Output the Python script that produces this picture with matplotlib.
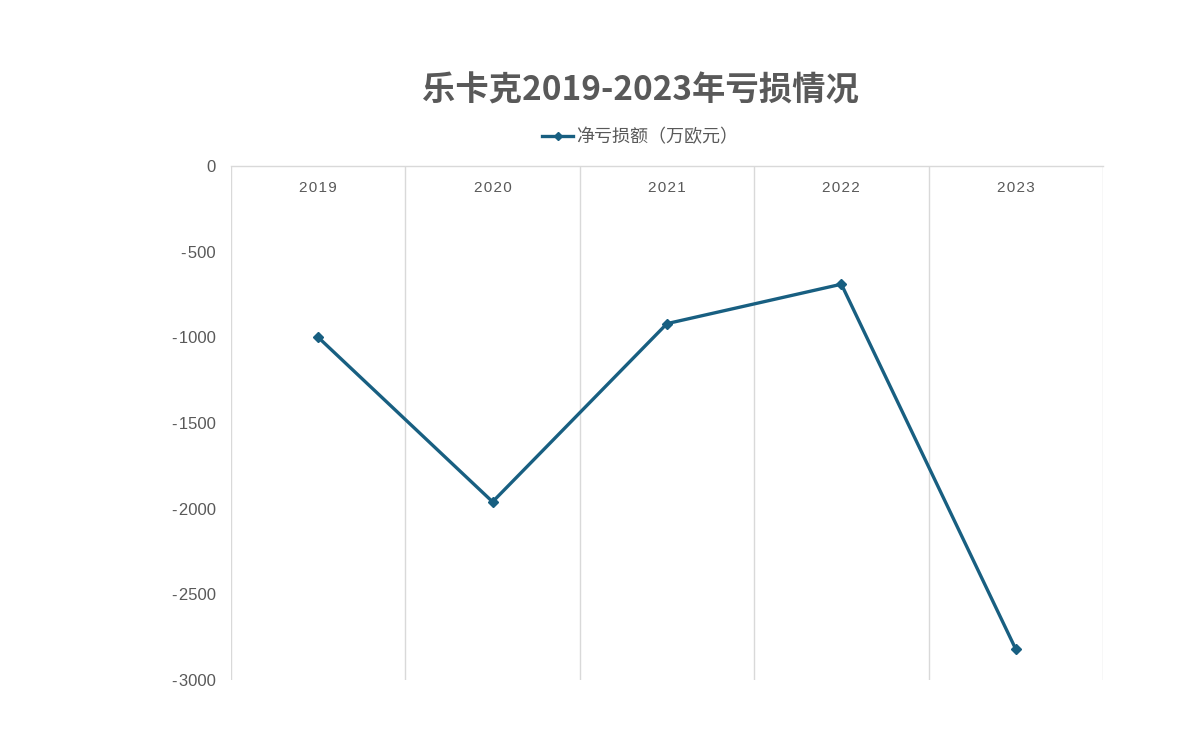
import matplotlib
matplotlib.use("Agg")
import matplotlib.pyplot as plt
from matplotlib.ticker import FuncFormatter, MultipleLocator

plt.rcParams['font.family'] = ['Noto Sans CJK SC', 'DejaVu Sans']
plt.rcParams['axes.unicode_minus'] = False

years = ["2019", "2020", "2021", "2022", "2023"]
net_loss = [-1000, -1960, -920, -690, -2820]

LINE = "#185F81"
TXT = "#595959"
GRID = "#D9D9D9"
NUM_FONT = ['Liberation Sans', 'DejaVu Sans']

fig = plt.figure(figsize=(11.92, 7.41), dpi=100)
ax = fig.add_axes([0.1938, 0.0823, 0.7315, 0.6937])

x = list(range(len(years)))
ax.plot(x, net_loss, color=LINE, lw=2.4, marker="D", ms=5.5,
        label="净亏损额（万欧元）", zorder=3)

ax.set_xlim(-0.5, len(years) - 0.5)
ax.set_ylim(-3000, 0)
ax.yaxis.set_major_locator(MultipleLocator(500))
# Excel-style labels: hyphen minus with a small gap before the digits
ax.yaxis.set_major_formatter(
    FuncFormatter(lambda v, p: f"{int(v)}".replace("-", "-\u200a")))

# vertical category separators
ax.set_xticks([i - 0.5 for i in range(len(years) + 1)])
ax.tick_params(axis="x", length=0, labelbottom=False)
ax.grid(axis="x", color=GRID, lw=1.0)
ax.tick_params(axis="y", length=0, pad=11, labelsize=12, labelcolor=TXT)
for lab in ax.get_yticklabels():
    lab.set_family(NUM_FONT)

for s in ("left", "right", "bottom"):
    ax.spines[s].set_visible(False)
ax.spines["top"].set_color(GRID)
ax.spines["top"].set_linewidth(1.0)

# category labels sit inside the plot, just under the zero line
for i, yr in enumerate(years):
    ax.text(i, 0.957, "\u200a".join(yr), transform=ax.get_xaxis_transform(),
            ha="center", va="center", fontsize=11, color=TXT, family=NUM_FONT)

fig.text(0.537, 0.877, "乐卡克2019-2023年亏损情况", ha="center", va="center",
         fontsize=24, fontweight="bold", color=TXT)

leg = fig.legend(loc="center", bbox_to_anchor=(0.537, 0.815), frameon=False,
                 fontsize=13, handlelength=1.7, handletextpad=0.15,
                 markerscale=0.8)
for t in leg.get_texts():
    t.set_color(TXT)

fig.savefig("out.png", dpi=100)
